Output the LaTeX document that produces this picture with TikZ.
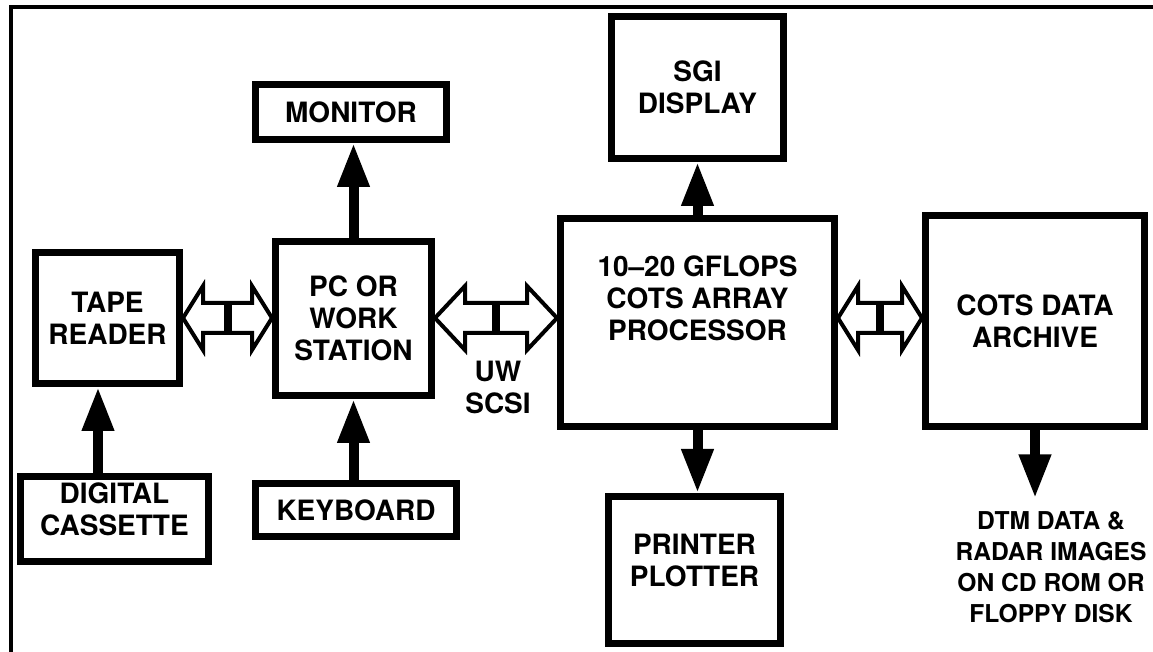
\documentclass[tikz,border=0pt]{standalone}
\usepackage{fontspec}
\setmainfont{TeX Gyre Heros}
\usetikzlibrary{arrows.meta,calc}

% hollow double arrow with a tie in the middle
\newcommand{\busarrow}[3]{%
  \draw[bus] let \p1=(#1.east), \p2=(#2.west), \p3=(busline) in
    (\x1,\y3) -- (\x1+#3,\y3+16pt) -- (\x1+#3,\y3+7.5pt) -- (\x2-#3,\y3+7.5pt)
    -- (\x2-#3,\y3+16pt) -- (\x2,\y3) -- (\x2-#3,\y3-16pt) -- (\x2-#3,\y3-7.5pt)
    -- (\x1+#3,\y3-7.5pt) -- (\x1+#3,\y3-16pt) -- cycle;
  \draw[line width=4pt] let \p1=(#1.east), \p2=(#2.west), \p3=(busline) in
    ({(\x1+\x2)/2},\y3+7.5pt) -- ({(\x1+\x2)/2},\y3-7.5pt);
}

\begin{document}
\begin{tikzpicture}[x=0.5pt, y=-0.5pt,
    box/.style={draw, line width=3.5pt, align=center, font=\bfseries\fontsize{14}{16}\selectfont},
    txt/.style={align=center, font=\bfseries\fontsize{14}{16}\selectfont},
    flow/.style={-{Triangle[length=22pt,width=15pt]}, line width=5pt},
    bus/.style={draw, fill=white, line width=2pt, line join=miter}]
  \useasboundingbox (0,0) rectangle (1153,652);

  % frame
  \draw[line width=2pt] (1153,7) -- (11,7) -- (11,652);

  % units
  \node[box, minimum width=72pt, minimum height=65.5pt] (tape) at (107.5,318) {TAPE\\READER};
  \node[box, minimum width=94pt, minimum height=42.5pt] (cassette) at (114.5,519) {};
  \node[txt] (cassettetext) at (114.5,509) {DIGITAL\\CASSETTE};
  \node[box, minimum width=78pt, minimum height=77pt] (pc) at (353.5,318.5) {PC OR\\WORK\\STATION};
  \node[box, minimum width=95.5pt, minimum height=27.5pt] (monitor) at (351,112) {MONITOR};
  \node[box, minimum width=100.5pt, minimum height=26.5pt] (kbd) at (356,510) {KEYBOARD};
  \node[box, minimum width=137pt, minimum height=104pt] (proc) at (697.5,322.5) {};
  \node[txt] (proctext) at (697.5,298) {10--20 GFLOPS\\COTS ARRAY\\PROCESSOR};
  \node[box, minimum width=86pt, minimum height=71pt] (sgi) at (697.5,87.5) {SGI\\DISPLAY};
  \node[box, minimum width=86pt, minimum height=73.5pt] (printer) at (694.5,570) {};
  \node[txt] (printertext) at (694.5,560) {PRINTER\\PLOTTER};
  \node[box, minimum width=109.5pt, minimum height=105.5pt] (archive) at (1035,321) {COTS DATA\\ARCHIVE};

  % labels
  \node[txt] (scsi) at (498,387) {UW\\SCSI};
  \node[txt, font=\bfseries\fontsize{12.3}{15.5}\selectfont] (media) at (1051,567)
    {DTM DATA \&\\RADAR IMAGES\\ON CD ROM OR\\FLOPPY DISK};

  % buses
  \coordinate (busline) at (0,318);
  \busarrow{tape}{pc}{10pt}
  \busarrow{pc}{proc}{15pt}
  \busarrow{proc}{archive}{10pt}

  % single arrows
  \coordinate (tapex) at (98,0);
  \draw[flow] (cassette.north -| tapex) -- (tape.south -| tapex);
  \draw[flow] (kbd.north -| pc.south) -- (pc.south);
  \draw[flow] (pc.north) -- (pc.north |- monitor.south);
  \draw[flow] (proc.north) -- (sgi.south);
  \draw[flow] (proc.south) -- (proc.south |- printer.north);
  \draw[flow] (archive.south) -- ([yshift=3pt]archive.south |- media.north);
\end{tikzpicture}
\end{document}
